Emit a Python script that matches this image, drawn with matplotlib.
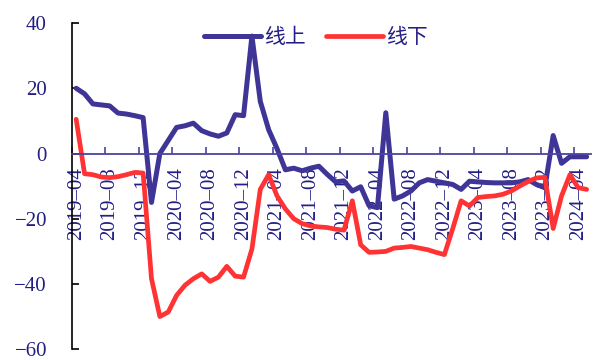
import numpy as np
import pandas as pd
import matplotlib
matplotlib.use("Agg")
import matplotlib.pyplot as plt

plt.rcParams['font.family'] = ['Liberation Serif', 'Noto Sans CJK SC']
plt.rcParams['axes.unicode_minus'] = True

# 月份 2019-04 ~ 2024-05
months = pd.date_range('2019-04-01', '2024-05-01', freq='MS')
labels = [d.strftime('%Y–%m') for d in months]

# 线上
online = [20.0, 18.3, 15.2, 14.9, 14.6, 12.4, 12.1, 11.6, 11.0, -15.0,
          0.0, 4.0, 8.0, 8.5, 9.3, 7.0, 6.0, 5.3, 6.3, 11.9,
          11.6, 36.0, 16.0, 7.3, 1.5, -5.0, -4.5, -5.3, -4.5, -3.9,
          -6.4, -8.7, -8.4, -11.5, -10.2, -16.0, -16.6, 12.5, -14.0, -13.0,
          -11.5, -9.0, -8.0, -8.5, -9.0, -9.5, -11.0, -8.5, -8.7, -8.9,
          -9.0, -9.0, -9.0, -8.7, -8.0, -9.5, -10.5, 5.5, -3.0, -1.0,
          -1.0, -1.0]
# 线下
offline = [10.5, -6.2, -6.5, -7.2, -7.4, -7.1, -6.5, -5.8, -6.0, -38.4,
           -50.0, -48.6, -43.5, -40.4, -38.4, -36.9, -39.2, -37.9, -34.6, -37.6,
           -37.9, -29.3, -11.0, -6.5, -13.0, -17.0, -20.0, -21.5, -22.2, -22.5,
           -22.7, -23.2, -23.5, -14.5, -28.0, -30.3, -30.2, -30.0, -29.0, -28.8,
           -28.5, -29.0, -29.5, -30.3, -31.0, -23.0, -14.5, -16.1, -13.5, -13.2,
           -13.0, -12.5, -11.5, -10.0, -8.6, -7.5, -7.3, -23.0, -13.0, -6.5,
           -10.5, -11.0]

blue = '#3F3597'
red = '#FF3333'
navy = '#231E85'

fig = plt.figure(figsize=(5.95, 3.6), dpi=100)
ax = fig.add_axes([0.121, 0.03, 0.872, 0.906])

x = np.arange(len(months))
ax.plot(x, online, color=blue, lw=3.6, solid_capstyle='round', solid_joinstyle='round', label='线上')
ax.plot(x, offline, color=red, lw=3.4, solid_capstyle='round', solid_joinstyle='round', label='线下')

ax.set_xlim(-0.5, len(months) - 0.5)
ax.set_ylim(-60, 40)

# 坐标轴
ax.spines['top'].set_visible(False)
ax.spines['right'].set_visible(False)
ax.spines['left'].set_color('black')
ax.spines['left'].set_linewidth(1.2)
ax.spines['bottom'].set_position(('data', 0))
ax.spines['bottom'].set_color('#4B44A0')
ax.spines['bottom'].set_linewidth(1.3)

ax.set_yticks([40, 20, 0, -20, -40, -60])
ax.tick_params(axis='y', direction='in', length=5, width=1.2, color='black',
               pad=18, labelsize=15, labelcolor=navy)

# 刻度线在类别之间, 标签在类别中央
ax.set_xticks(x[::4] - 0.5)
ax.set_xticklabels([])
ax.set_xticks(x[::4], minor=True)
ax.set_xticklabels(labels[::4], minor=True, rotation=90)
ax.tick_params(axis='x', which='major', direction='in', length=5, width=1.2, color='#4B44A0')
ax.tick_params(axis='x', which='minor', length=0, pad=10, labelsize=15, labelcolor=navy)

leg = ax.legend(loc='upper center', bbox_to_anchor=(0.47, 1.04), ncol=2, frameon=False,
                fontsize=15, handlelength=2.7, handletextpad=0.15, columnspacing=1.0)
for t in leg.get_texts():
    t.set_color(navy)

fig.savefig('out.png', dpi=100)
